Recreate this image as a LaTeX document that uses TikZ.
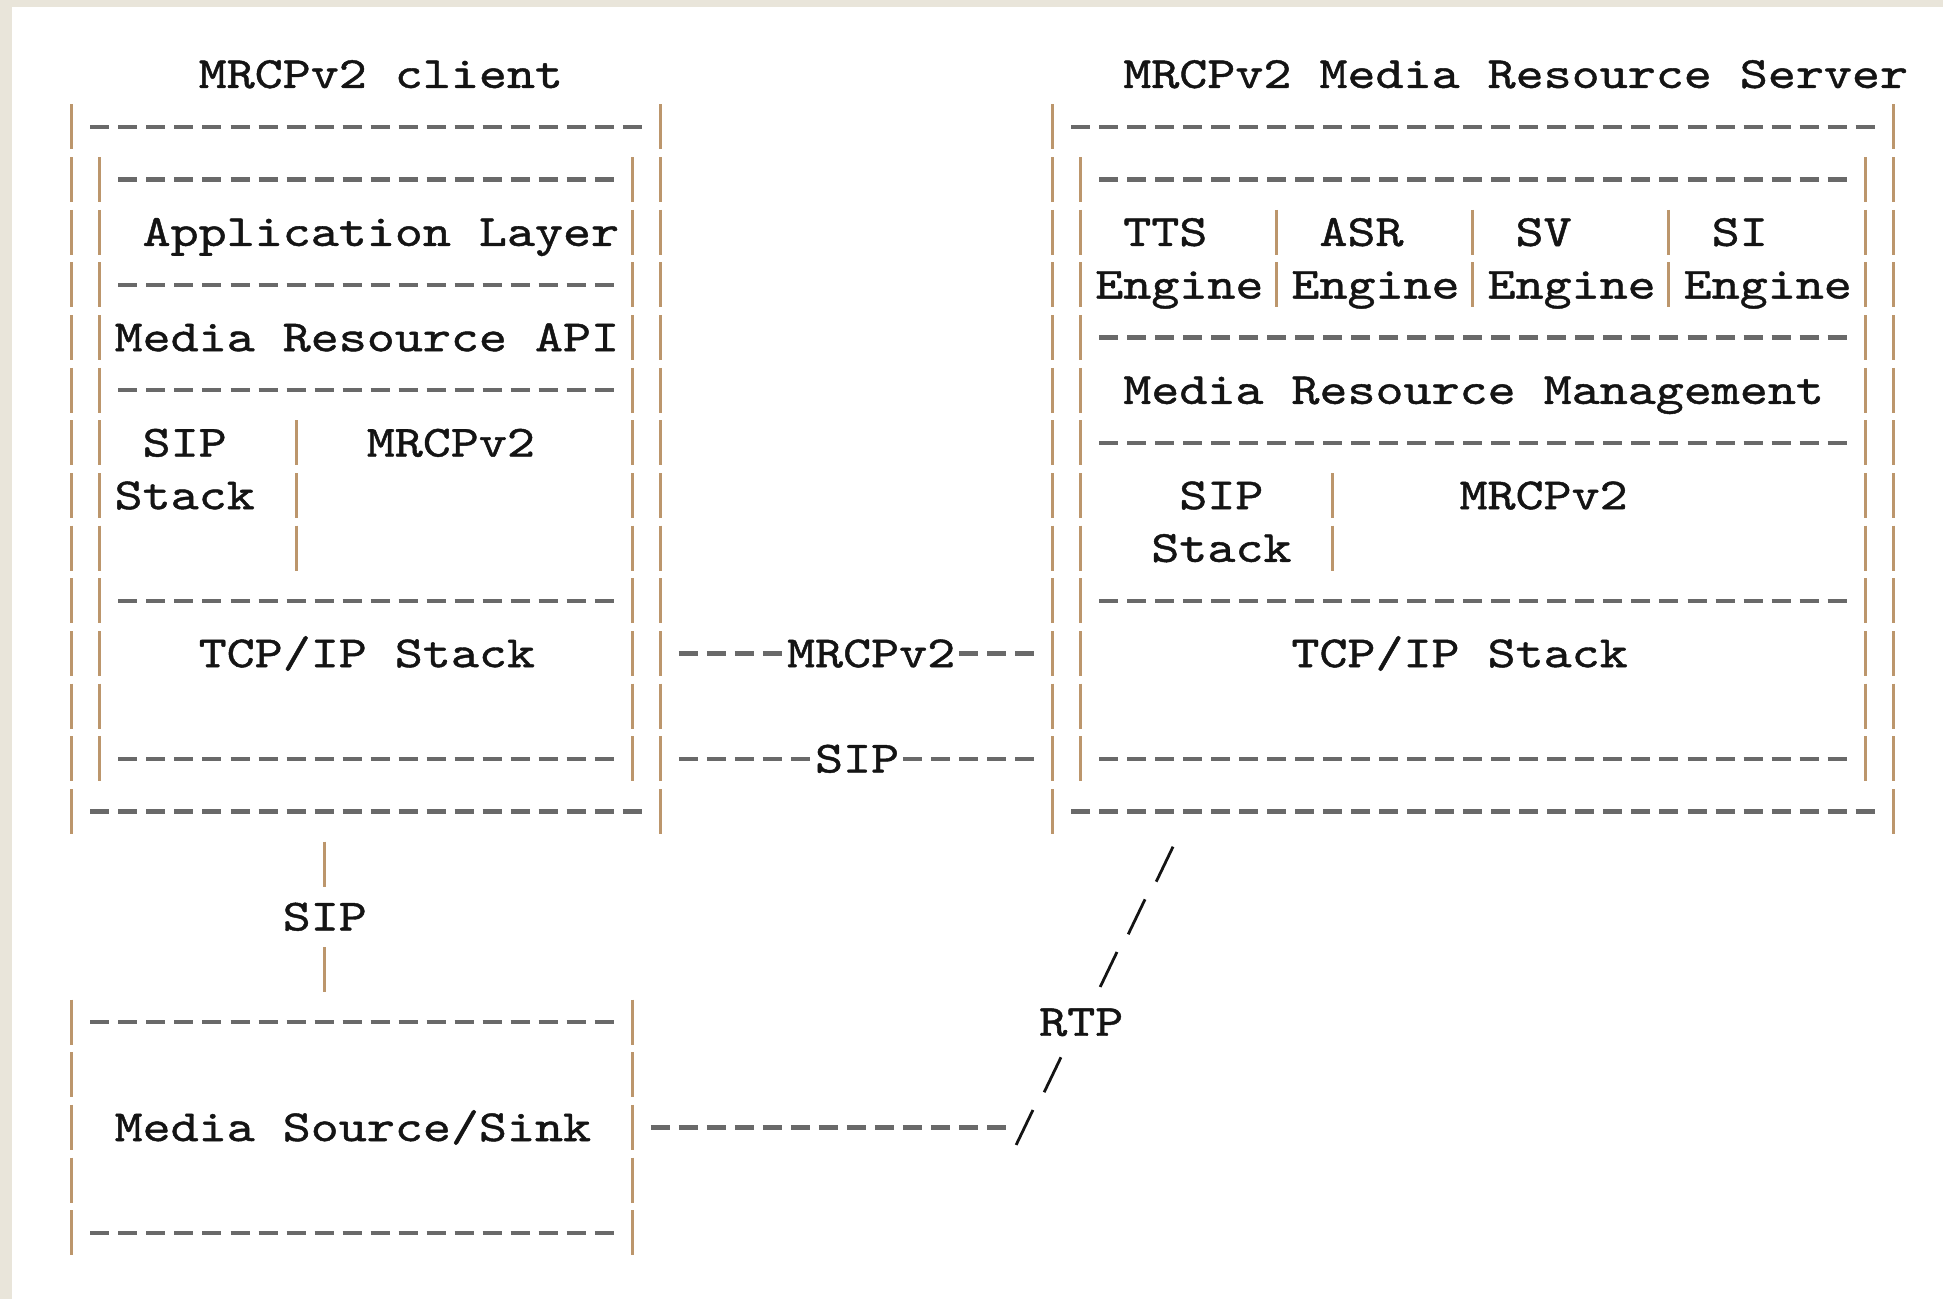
\documentclass[tikz,border=0pt]{standalone}
\usepackage{fontspec}
\usetikzlibrary{positioning}
\newfontfamily\asciifont[FakeStretch=1.196, FakeBold=1]{lmmono10-regular.otf}
\definecolor{paper}{RGB}{233,229,218}
\definecolor{barcol}{RGB}{188,150,108}
\definecolor{dashcol}{RGB}{105,105,105}
\definecolor{inkcol}{RGB}{20,20,20}

\begin{document}
\begin{tikzpicture}[x = 0.2802cm, y = -0.5266cm,
    	txt/.style = {anchor = base west, inner sep = 0pt, yshift = -0.136cm, text = inkcol, font = \asciifont\fontsize{12.7pt}{15pt}\selectfont},
    	lbl/.style = {txt, fill = white},
    	barline/.style = {draw = barcol, line width = 0.03cm, dash pattern = on 0.45cm off 0.0766cm},
    	dashrow/.style = {draw = dashcol, line width = 0.045cm, dash pattern = on 0.19cm off 0.0902cm},
    	slash/.style = {draw = inkcol, line width = 0.028cm}]
    	\fill[paper] (-2.566,-1.411) rectangle (66.78,23.257);
    	\fill[white] (-2.138,-1.278) rectangle (66.78,23.257);
    	\useasboundingbox (-2.566,-1.411) rectangle (66.78,23.257);
    	% client
    	\node[txt] (cltitle) at (4.5,0) {MRCPv2 client};
    	\node[txt] (app) at (2.5,3) {Application Layer};
    	\node[txt] (api) at (1.5,5) {Media Resource API};
    	\node[txt] (clsip) at (2.5,7) {SIP};
    	\node[txt] (clstack) at (1.5,8) {Stack};
    	\node[txt] (clmrcp) at (10.5,7) {MRCPv2};
    	\node[txt] (cltcp) at (4.5,11) {TCP/IP Stack};
    	\foreach \c in {0,21} \draw[barline] (\c,0.573) -- (\c,14.427);
    	\foreach \c in {1,20} \draw[barline] (\c,1.573) -- (\c,13.427);
    	\draw[barline] (8,6.573) -- (8,9.427);
    	\foreach \r in {1,14} \draw[dashrow] (0.661,\r) -- (20.339,\r);
    	\foreach \r in {2,4,6,10,13} \draw[dashrow] (1.661,\r) -- (19.339,\r);
    	% server
    	\node[txt] (srvtitle) at (37.5,0) {MRCPv2 Media Resource Server};
    	\node[txt] (tts) at (37.5,3) {TTS};
    	\node[txt] (asr) at (44.5,3) {ASR};
    	\node[txt] (sv) at (51.5,3) {SV};
    	\node[txt] (si) at (58.5,3) {SI};
    	\foreach \c/\n in {36.5/tts,43.5/asr,50.5/sv,57.5/si}
    		\node[txt] (eng-\n) at (\c,4) {Engine};
    	\node[txt] (mrm) at (37.5,6) {Media Resource Management};
    	\node[txt] (srvsip) at (39.5,8) {SIP};
    	\node[txt] (srvstack) at (38.5,9) {Stack};
    	\node[txt] (srvmrcp) at (49.5,8) {MRCPv2};
    	\node[txt] (srvtcp) at (43.5,11) {TCP/IP Stack};
    	\foreach \c in {35,65} \draw[barline] (\c,0.573) -- (\c,14.427);
    	\foreach \c in {36,64} \draw[barline] (\c,1.573) -- (\c,13.427);
    	\foreach \c in {43,50,57} \draw[barline] (\c,2.573) -- (\c,4.427);
    	\draw[barline] (45,7.573) -- (45,9.427);
    	\foreach \r in {1,14} \draw[dashrow] (35.661,\r) -- (64.339,\r);
    	\foreach \r in {2,5,7,10,13} \draw[dashrow] (36.661,\r) -- (63.339,\r);
    	% links between client and server
    	\coordinate (mrcpA) at (21.661,11);
    	\coordinate (mrcpB) at (34.339,11);
    	\coordinate (sipA) at (21.661,13);
    	\coordinate (sipB) at (34.339,13);
    	\draw[dashrow] (mrcpA) -- (mrcpB);
    	\draw[dashrow] (sipA) -- (sipB);
    	\node[lbl] (mrcplink) at (25.5,11) {MRCPv2};
    	\node[lbl] (siplink) at (26.5,13) {SIP};
    	% media source/sink
    	\node[txt] (media) at (1.5,20) {Media Source/Sink};
    	\foreach \c in {0,20} \draw[barline] (\c,17.573) -- (\c,22.427);
    	\foreach \r in {18,22} \draw[dashrow] (0.661,\r) -- (19.339,\r);
    	\node[txt] (sipdown) at (7.5,16) {SIP};
    	\foreach \r in {15,17} \draw[barline] (9,\r-0.427) -- (9,\r+0.427);
    	% rtp
    	\coordinate (rtpA) at (20.661,20);
    	\coordinate (rtpB) at (33.339,20);
    	\draw[dashrow] (rtpA) -- (rtpB);
    	\node[txt] (rtp) at (34.5,18) {RTP};
    	\foreach \c/\r in {39/15,38/16,37/17,35/19,34/20}
    		\draw[slash] (\c-0.3,\r+0.332) -- (\c+0.3,\r-0.332);
\end{tikzpicture}
\end{document}
